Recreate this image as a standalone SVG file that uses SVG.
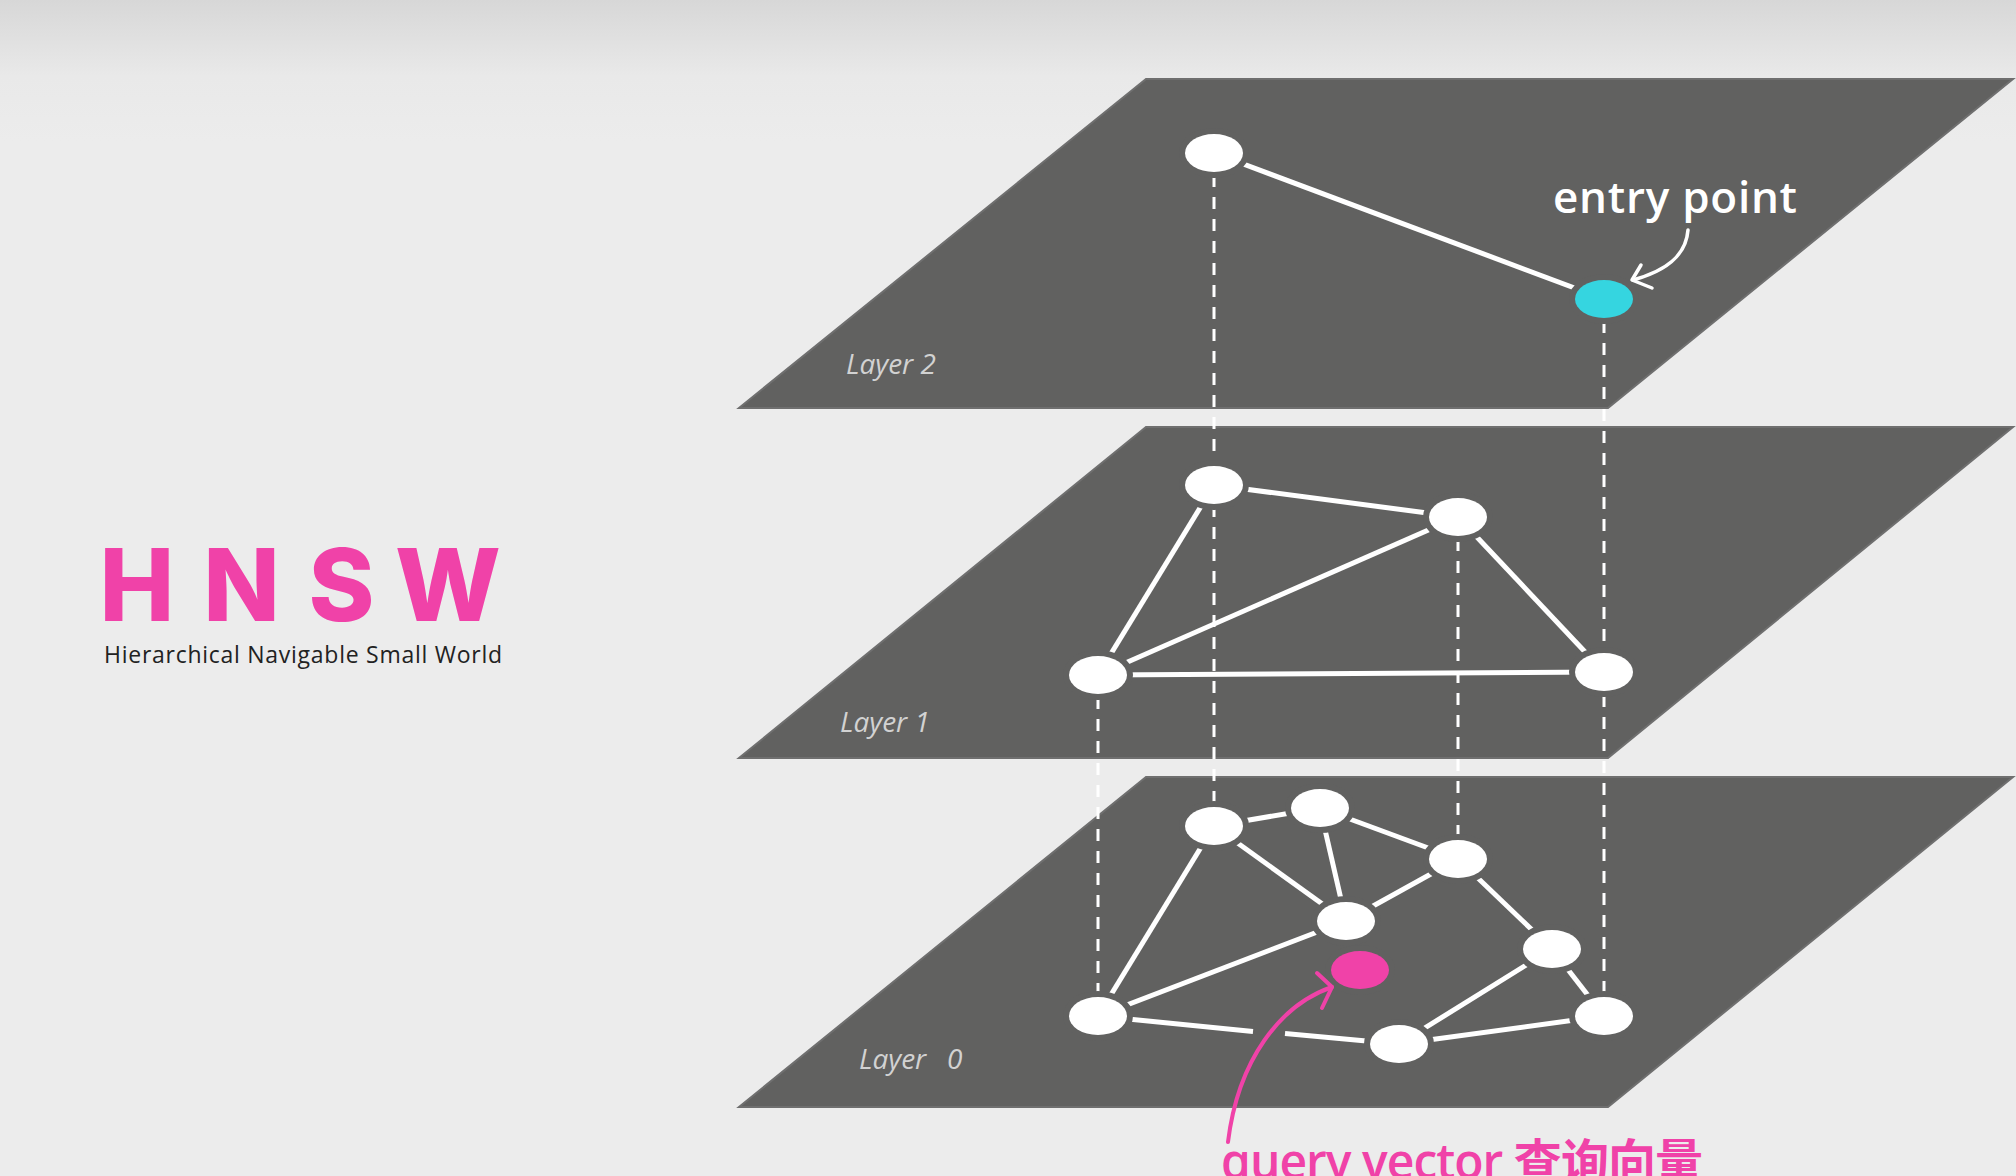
<svg xmlns="http://www.w3.org/2000/svg" width="2016" height="1176" viewBox="0 0 2016 1176">
<defs>
<linearGradient id="bg" x1="0" y1="0" x2="0" y2="1">
<stop offset="0" stop-color="#d7d7d7"/>
<stop offset="0.065" stop-color="#e9e9e9"/>
<stop offset="0.12" stop-color="#ececec"/>
<stop offset="1" stop-color="#ececec"/>
</linearGradient>
<style>
.plate{fill:#616160;stroke:#6f6f6f;stroke-width:2}
.edge{stroke:#ffffff;stroke-width:5;fill:none}
.dash{stroke:#ffffff;stroke-width:3;stroke-dasharray:12 10;fill:none}
.node{fill:#ffffff;stroke:#616160;stroke-width:12;paint-order:stroke}
.lbl{font-family:"Open Sans","Noto Sans",sans-serif;font-style:italic;font-size:28px;fill:#d2d2d2}
.hnsw{font-family:Inter,"Liberation Sans",sans-serif;font-weight:800;font-size:100px;fill:#f042a8;text-anchor:middle}
</style>
</defs>
<rect x="0" y="0" width="2016" height="1176" fill="url(#bg)"/>

<g id="layer2-plate"><polygon class="plate" points="1146,79 2013,79 1608,408 739,408"/></g>
<g id="layer1-plate"><polygon class="plate" points="1146,427 2013,427 1608,758 739,758"/></g>
<g id="layer0-plate"><polygon class="plate" points="1146,777 2013,777 1608,1107 739,1107"/></g>

<g id="connectors">
<g id="vertical-links">
<line class="dash" x1="1214" y1="153" x2="1214" y2="826"/>
<line class="dash" x1="1604" y1="299" x2="1604" y2="1016"/>
<line class="dash" x1="1458" y1="517" x2="1458" y2="859"/>
<line class="dash" x1="1098" y1="675" x2="1098" y2="1016"/>
</g>
<g id="layer2-edges">
<line class="edge" x1="1214" y1="153" x2="1604" y2="299"/>
</g>
<g id="layer1-edges">
<line class="edge" x1="1214" y1="485" x2="1458" y2="517"/>
<line class="edge" x1="1214" y1="485" x2="1098" y2="675"/>
<line class="edge" x1="1458" y1="517" x2="1098" y2="675"/>
<line class="edge" x1="1458" y1="517" x2="1604" y2="672"/>
<line class="edge" x1="1098" y1="675" x2="1604" y2="672"/>
</g>
<g id="layer0-edges">
<line class="edge" x1="1214" y1="826" x2="1320" y2="808"/>
<line class="edge" x1="1214" y1="826" x2="1346" y2="921"/>
<line class="edge" x1="1214" y1="826" x2="1098" y2="1016"/>
<line class="edge" x1="1320" y1="808" x2="1346" y2="921"/>
<line class="edge" x1="1320" y1="808" x2="1458" y2="859"/>
<line class="edge" x1="1458" y1="859" x2="1346" y2="921"/>
<line class="edge" x1="1458" y1="859" x2="1552" y2="949"/>
<line class="edge" x1="1346" y1="921" x2="1098" y2="1016"/>
<line class="edge" x1="1098" y1="1016" x2="1253" y2="1031.5"/>
<line class="edge" x1="1285" y1="1033.5" x2="1399" y2="1044"/>
<line class="edge" x1="1399" y1="1044" x2="1552" y2="949"/>
<line class="edge" x1="1399" y1="1044" x2="1604" y2="1016"/>
<line class="edge" x1="1552" y1="949" x2="1604" y2="1016"/>
</g>
</g>

<g id="n2a"><ellipse class="node" cx="1214" cy="153" rx="29" ry="19"/></g>
<g id="n2-entry"><ellipse class="node" cx="1604" cy="299" rx="29" ry="19" style="fill:#35d5e0"/></g>
<g id="n1a"><ellipse class="node" cx="1214" cy="485" rx="29" ry="19"/></g>
<g id="n1b"><ellipse class="node" cx="1458" cy="517" rx="29" ry="19"/></g>
<g id="n1c"><ellipse class="node" cx="1098" cy="675" rx="29" ry="19"/></g>
<g id="n1d"><ellipse class="node" cx="1604" cy="672" rx="29" ry="19"/></g>
<g id="n0a"><ellipse class="node" cx="1214" cy="826" rx="29" ry="19"/></g>
<g id="n0b"><ellipse class="node" cx="1320" cy="808" rx="29" ry="19"/></g>
<g id="n0c"><ellipse class="node" cx="1458" cy="859" rx="29" ry="19"/></g>
<g id="n0d"><ellipse class="node" cx="1346" cy="921" rx="29" ry="19"/></g>
<g id="n0e"><ellipse class="node" cx="1552" cy="949" rx="29" ry="19"/></g>
<g id="n0f"><ellipse class="node" cx="1098" cy="1016" rx="29" ry="19"/></g>
<g id="n0g"><ellipse class="node" cx="1399" cy="1044" rx="29" ry="19"/></g>
<g id="n0h"><ellipse class="node" cx="1604" cy="1016" rx="29" ry="19"/></g>
<g id="n0-query"><ellipse class="node" cx="1360" cy="970" rx="29" ry="19" style="fill:#f042a8"/></g>

<g id="annotations">
<path d="M1688,230 C1686,256 1666,271 1633,280" fill="none" stroke="#ffffff" stroke-width="3.5" stroke-linecap="round"/>
<polyline points="1641,265 1632,280 1652,288" fill="none" stroke="#ffffff" stroke-width="3.5" stroke-linecap="round" stroke-linejoin="round"/>
<path d="M1228,1142 C1238,1060 1280,1005 1332,987" fill="none" stroke="#f042a8" stroke-width="4" stroke-linecap="round"/>
<polyline points="1317,973 1332,987 1322,1008" fill="none" stroke="#f042a8" stroke-width="4" stroke-linecap="round" stroke-linejoin="round"/>
</g>

<g id="labels">
<text class="lbl" x="846" y="374">Layer 2</text>
<text class="lbl" x="840" y="732">Layer 1</text>
<text class="lbl" x="859" y="1069">Layer <tspan x="947">0</tspan></text>
<text x="1553" y="213" font-family="'Open Sans','Noto Sans',sans-serif" font-weight="600" font-size="44" fill="#ffffff" textLength="244">entry point</text>
<text x="1221" y="1179" font-family="'Open Sans','Noto Sans','Noto Sans CJK SC',sans-serif" font-weight="600" font-size="48" fill="#f042a8" textLength="482">query vector 查询向量</text>
</g>

<g id="title">
<text class="hnsw" x="137" y="621">H</text>
<text class="hnsw" x="241.5" y="621">N</text>
<text class="hnsw" x="341.5" y="621">S</text>
<text class="hnsw" x="448" y="621">W</text>
<text x="104" y="663" font-family="'Open Sans','Noto Sans',sans-serif" font-size="23" fill="#222222" textLength="398">Hierarchical Navigable Small World</text>
</g>
</svg>
